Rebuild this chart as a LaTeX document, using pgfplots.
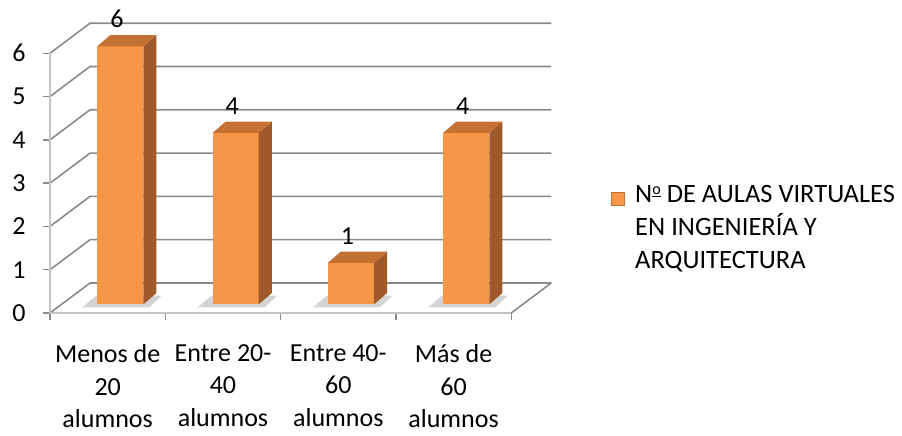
\documentclass[border=0pt]{standalone}
\usepackage{pgfplots}
\pgfplotsset{compat=1.18}
\usepackage{fontspec}
\setmainfont{Carlito}
\definecolor{barfront}{HTML}{F79646}
\definecolor{barside}{HTML}{A0592A}
\definecolor{bartop}{HTML}{C47134}
\definecolor{grid}{HTML}{8A8A8A}
\definecolor{floorc}{HTML}{C4C4C4}
\definecolor{shadowc}{HTML}{D4D4D4}
\begin{document}
\begin{tikzpicture}
\begin{axis}[
  scale only axis, width=902pt, height=435pt,
  xmin=-0.434, xmax=7.389, ymin=-2.818, ymax=7.229,
  axis lines=left, axis line style={draw=none},
  axis x line shift=-122pt, axis y line shift=-50pt,
  tick align=outside,
  ytick={0,1,2,3,4,5,6}, yticklabels={0,1,2,3,4,5,6},
  major tick length=7pt, minor tick length=7pt,
  ytick style={draw=grid, line width=1.4pt},
  xtick={0.5,1.5,2.5,3.5},
  xticklabels={Menos de\\20\\alumnos, Entre 20-\\40\\alumnos, Entre 40-\\60\\alumnos, Más de\\60\\alumnos},
  xtick style={draw=none},
  minor xtick={0,1,2,3,4},
  minor x tick style={draw=grid, line width=1.4pt},
  tick label style={font=\fontsize{26}{32.5}\selectfont},
  xticklabel style={align=center, yshift=-21pt},
  yticklabel style={xshift=-14pt},
  clip=false,
  legend style={draw=none, fill=none, at={(0.6774,0.4759)}, anchor=west,
    font=\fontsize{26.5}{33}\selectfont, cells={align=left}, inner sep=0pt, nodes={inner sep=0pt}},
  legend cell align=left,
]
% walls / gridlines
\addplot[forget plot, draw=grid, line width=1.6pt] coordinates {(0,0) (0.347,0.693) (4.347,0.693)};
\addplot[forget plot, draw=grid, line width=1.6pt] coordinates {(0,1) (0.347,1.693) (4.347,1.693)};
\addplot[forget plot, draw=grid, line width=1.6pt] coordinates {(0,2) (0.347,2.693) (4.347,2.693)};
\addplot[forget plot, draw=grid, line width=1.6pt] coordinates {(0,3) (0.347,3.693) (4.347,3.693)};
\addplot[forget plot, draw=grid, line width=1.6pt] coordinates {(0,4) (0.347,4.693) (4.347,4.693)};
\addplot[forget plot, draw=grid, line width=1.6pt] coordinates {(0,5) (0.347,5.693) (4.347,5.693)};
\addplot[forget plot, draw=grid, line width=1.6pt] coordinates {(0,6) (0.347,6.693) (4.347,6.693)};
% floor and front axis
\addplot[forget plot, draw=floorc, line width=1.6pt] coordinates {(0,6) (0,0) (4,0)};
\addplot[forget plot, draw=grid, line width=1.6pt] coordinates {(4,0) (4.347,0.693)};
% bar shadows
\addplot[forget plot, draw=none, fill=shadowc] coordinates {(0.28,0.13) (0.86,0.13) (0.97,0.40) (0.40,0.40)} -- cycle;
\addplot[forget plot, draw=none, fill=shadowc] coordinates {(1.28,0.13) (1.86,0.13) (1.97,0.40) (1.40,0.40)} -- cycle;
\addplot[forget plot, draw=none, fill=shadowc] coordinates {(2.28,0.13) (2.86,0.13) (2.97,0.40) (2.40,0.40)} -- cycle;
\addplot[forget plot, draw=none, fill=shadowc] coordinates {(3.28,0.13) (3.86,0.13) (3.97,0.40) (3.40,0.40)} -- cycle;
% bar 1 (6)
\addplot[draw=none, fill=barfront, legend image code/.code={\draw[fill=barfront, draw=bartop, line width=1pt] (0.5pt,22pt) rectangle (13.5pt,35pt); \path (24pt,28pt);}] coordinates {(0.41,0.2) (0.81,0.2) (0.81,6.16) (0.41,6.16)} -- cycle;
\addlegendentry{N\raisebox{0.62ex}{\fontsize{16}{16}\selectfont\underline{o}} DE AULAS VIRTUALES\\EN INGENIERÍA Y\\ARQUITECTURA}
\addplot[forget plot, draw=none, fill=barside] coordinates {(0.81,0.2) (0.923,0.46) (0.923,6.42) (0.81,6.16)} -- cycle;
\addplot[forget plot, draw=none, fill=bartop] coordinates {(0.41,6.16) (0.81,6.16) (0.923,6.42) (0.523,6.42)} -- cycle;
% bar 2 (4)
\addplot[forget plot, draw=none, fill=barfront] coordinates {(1.41,0.2) (1.81,0.2) (1.81,4.16) (1.41,4.16)} -- cycle;
\addplot[forget plot, draw=none, fill=barside] coordinates {(1.81,0.2) (1.923,0.46) (1.923,4.42) (1.81,4.16)} -- cycle;
\addplot[forget plot, draw=none, fill=bartop] coordinates {(1.41,4.16) (1.81,4.16) (1.923,4.42) (1.523,4.42)} -- cycle;
% bar 3 (1)
\addplot[forget plot, draw=none, fill=barfront] coordinates {(2.41,0.2) (2.81,0.2) (2.81,1.16) (2.41,1.16)} -- cycle;
\addplot[forget plot, draw=none, fill=barside] coordinates {(2.81,0.2) (2.923,0.46) (2.923,1.42) (2.81,1.16)} -- cycle;
\addplot[forget plot, draw=none, fill=bartop] coordinates {(2.41,1.16) (2.81,1.16) (2.923,1.42) (2.523,1.42)} -- cycle;
% bar 4 (4)
\addplot[forget plot, draw=none, fill=barfront] coordinates {(3.41,0.2) (3.81,0.2) (3.81,4.16) (3.41,4.16)} -- cycle;
\addplot[forget plot, draw=none, fill=barside] coordinates {(3.81,0.2) (3.923,0.46) (3.923,4.42) (3.81,4.16)} -- cycle;
\addplot[forget plot, draw=none, fill=bartop] coordinates {(3.41,4.16) (3.81,4.16) (3.923,4.42) (3.523,4.42)} -- cycle;
% data labels
\addplot[forget plot, draw=none, mark=none, point meta=explicit symbolic,
  nodes near coords, nodes near coords style={anchor=south, inner sep=0pt, yshift=7pt, font=\fontsize{26}{33}\selectfont}]
  coordinates {(0.58,6.42) [6] (1.58,4.42) [4] (2.58,1.42) [1] (3.58,4.42) [4]};
\end{axis}
\end{tikzpicture}
\end{document}
